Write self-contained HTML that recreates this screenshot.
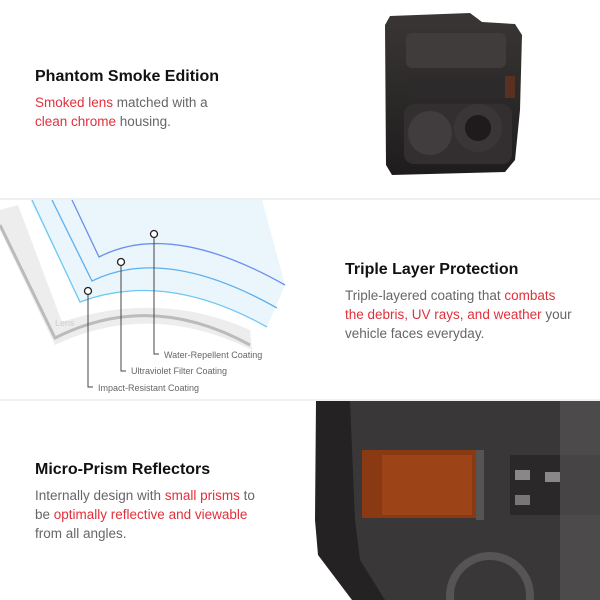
<!DOCTYPE html>
<html style="overflow:hidden;width:600px;height:600px"><head><style>
body{margin:0;width:600px;height:600px;overflow:hidden;background:#fff;font-family:"Liberation Sans",sans-serif;position:relative}
.h{position:absolute;font-size:16px;font-weight:bold;color:#111;white-space:nowrap}
.p{position:absolute;font-size:13.5px;line-height:19px;color:#666;white-space:nowrap}
.r{color:#e2303a}
.sep{position:absolute;left:0;width:600px;height:2px;background:#eef0f2}
</style></head><body>
<div class="sep" style="top:198px"></div>
<div class="sep" style="top:399px"></div>
<div class="h" style="left:35px;top:68px">Phantom Smoke Edition</div>
<div class="p" style="left:35px;top:93px"><span class="r">Smoked lens</span> matched with a<br><span class="r">clean chrome</span> housing.</div>
<div class="h" style="left:345px;top:261px">Triple Layer Protection</div>
<div class="p" style="left:345px;top:286px">Triple-layered coating that <span class="r">combats</span><br><span class="r">the debris, UV rays, and weather</span> your<br>vehicle faces everyday.</div>
<div class="h" style="left:35px;top:461px">Micro-Prism Reflectors</div>
<div class="p" style="left:35px;top:486px">Internally design with <span class="r">small prisms</span> to<br>be <span class="r">optimally reflective and viewable</span><br>from all angles.</div>
<svg width="600" height="600" style="position:absolute;left:0;top:0">
<defs><linearGradient id="g1" x1="0" y1="0" x2="0" y2="1"><stop offset="0" stop-color="#3a3636"/><stop offset="1" stop-color="#1e1c1c"/></linearGradient></defs>
<path d="M390 16 L470 13 L482 22 L515 24 L522 35 L520 110 L515 160 L505 172 L392 175 L386 165 L385 25Z" fill="url(#g1)"/>
<rect x="406" y="33" width="100" height="35" rx="6" fill="#403c3c"/>
<rect x="410" y="76" width="95" height="22" fill="#2c2a2a"/>
<rect x="505" y="76" width="10" height="22" fill="#5a3020"/>
<rect x="404" y="104" width="108" height="60" rx="10" fill="#332f30"/>
<circle cx="430" cy="133" r="22" fill="#413c3d"/><circle cx="478" cy="128" r="24" fill="#3a3536"/>
<circle cx="478" cy="128" r="13" fill="#1e1b1c"/>
<path d="M316 401 L600 401 L600 600 L352 600 L318 555 L315 520Z" fill="#242223"/>
<path d="M350 401 L600 401 L600 600 L385 600 L360 560 L355 520Z" fill="#3a3738"/>
<rect x="362" y="450" width="114" height="68" fill="#8a3a12"/>
<rect x="382" y="455" width="90" height="60" fill="#9c4418"/>
<rect x="476" y="450" width="8" height="70" fill="#555"/>
<rect x="510" y="455" width="90" height="60" fill="#2a2829"/>
<rect x="515" y="470" width="15" height="10" fill="#888"/><rect x="545" y="472" width="15" height="10" fill="#888"/><rect x="515" y="495" width="15" height="10" fill="#777"/>
<rect x="560" y="401" width="40" height="199" fill="#5a5758" opacity=".6"/>
<circle cx="490" cy="596" r="40" fill="none" stroke="#555" stroke-width="8"/>
<path d="M0 210 L0 230 L55 345 Q150 300 252 350 L250 330 Q160 290 62 322 L18 205 Z" fill="#ededed"/>
<path d="M0 225 L55 338 Q150 290 250 345" fill="none" stroke="#bbb" stroke-width="3"/>
<path d="M30 200 L80 302 Q165 270 267 327 L285 285 L262 200Z" fill="#e6f3fc" opacity=".85"/>
<path d="M32 200 L80 302 Q165 270 267 327" fill="none" stroke="#6cc8f2" stroke-width="1.3"/>
<path d="M52 200 L92 281 Q165 245 277 308" fill="none" stroke="#5cb0ee" stroke-width="1.3"/>
<path d="M72 200 L99 257 Q170 220 285 285" fill="none" stroke="#6a8ef0" stroke-width="1.3"/>
<text x="55" y="326" font-size="9" fill="#ccc">Lens</text>
<g fill="#fff" stroke="#222" stroke-width="1.3"><circle cx="88" cy="291" r="3.5"/><circle cx="121" cy="262" r="3.5"/><circle cx="154" cy="234" r="3.5"/></g>
<g fill="none" stroke="#444" stroke-width="1"><path d="M88 295 V387 H93"/><path d="M121 266 V371 H126"/><path d="M154 238 V354 H159"/></g>
<g font-size="9" fill="#666"><text x="98" y="391">Impact-Resistant Coating</text><text x="131" y="374">Ultraviolet Filter Coating</text><text x="164" y="358">Water-Repellent Coating</text></g>
</svg>
</body></html>
